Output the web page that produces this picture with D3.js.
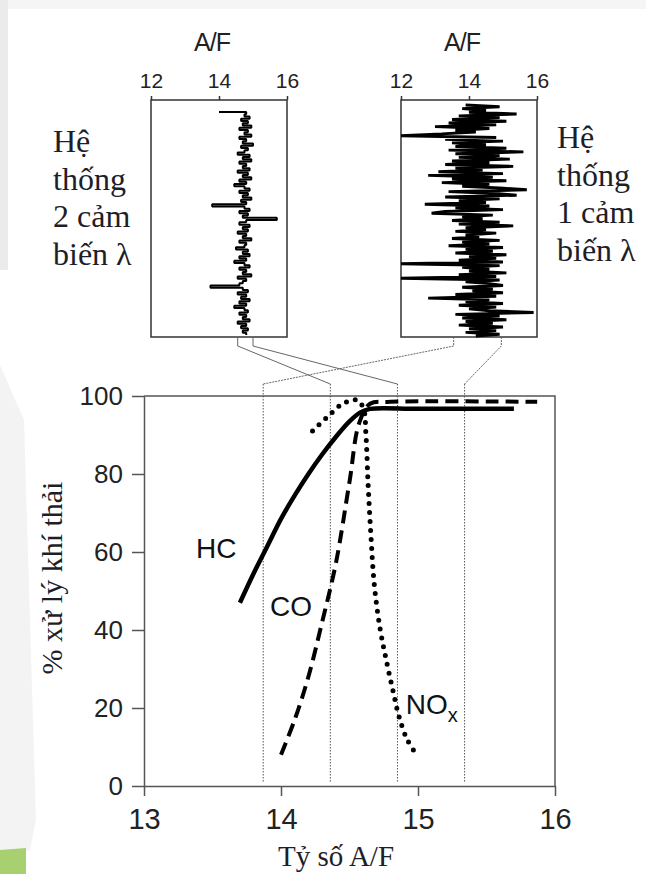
<!DOCTYPE html>
<html>
<head>
<meta charset="utf-8">
<script src="https://cdn.jsdelivr.net/npm/d3@7"></script>
<style>
  body { margin: 0; background: #fff; }
  svg { display: block; }
</style>
</head>
<body>
<div id="chart"></div>
<script>
// ---- data ----
var xTicks = [13, 14, 15, 16];
var yTicks = [0, 20, 40, 60, 80, 100];
var panelTicks = [12, 14, 16];

// conversion efficiency curves (A/F, %)
var hcAF  = [13.7, 13.8, 13.9, 14.0, 14.1, 14.2, 14.3, 14.4, 14.5, 14.58, 14.65, 15.0, 15.7];
var hcPct = [47, 54.5, 61.5, 68.5, 74.5, 80, 85, 89.5, 93.5, 95.8, 96.7, 96.7, 96.7];
var coAF  = [14.0, 14.1, 14.2, 14.3, 14.4, 14.5, 14.57, 14.65, 14.8, 15.87];
var coPct = [8, 17, 28, 42, 57, 78, 93, 98, 98.5, 98.5];
var noxAF  = [14.23, 14.35, 14.45, 14.55, 14.6, 14.62, 14.635, 14.655, 14.68, 14.72, 14.77, 14.82, 14.86, 14.92, 15.0];
var noxPct = [91, 95, 98, 99, 97, 90, 78, 65, 52, 41, 32, 24, 18, 12, 7.5];

// A/F window lines in the main chart and the matching span in each trace panel
var windowAF = [13.87, 14.36, 14.85, 15.34];
var twoSensorSpan = [14.55, 15.0];   // -> windowAF[1], windowAF[2]
var oneSensorSpan = [13.55, 14.95];  // -> windowAF[0], windowAF[3]

// A/F traces over time (top to bottom)
var twoSensorAF = [14.0, 14.8, 14.75, 14.9, 14.65, 14.85, 14.7, 14.95, 14.6, 14.85,
  14.75, 14.95, 14.6, 14.8, 14.7, 15.0, 14.65, 14.85, 14.75, 14.55,
  14.9, 14.7, 14.95, 14.6, 14.8, 14.7, 14.9, 14.55, 14.85, 14.7,
  14.95, 14.6, 14.8, 14.45, 14.75, 14.9, 14.6, 14.85, 14.7, 14.95,
  14.65, 14.8, 13.8, 14.75, 14.9, 14.6, 14.85, 14.7, 15.7, 14.8,
  14.6, 14.9, 14.7, 14.85, 14.55, 14.8, 14.7, 14.95, 14.6, 14.8,
  14.75, 14.5, 14.85, 14.7, 14.9, 14.6, 14.8, 14.45, 14.75, 14.9,
  14.6, 14.8, 14.7, 14.95, 14.55, 14.8, 14.7, 14.6, 13.75, 14.7,
  14.85, 14.55, 14.8, 14.65, 14.9, 14.6, 14.8, 14.45, 14.75, 14.85,
  14.6, 14.8, 14.7, 14.9, 14.55, 14.8, 14.65, 14.85, 14.7, 14.8];

var oneSensorAF = [13.9, 14.9, 13.8, 14.5, 14.0, 15.4, 13.7, 14.9, 13.5, 15.1,
  13.4, 14.8, 13.0, 14.6, 13.6, 14.2, 13.2, 12.0, 14.8, 13.3,
  15.0, 13.5, 14.5, 13.6, 15.1, 13.4, 15.6, 13.6, 14.9, 13.7,
  15.2, 13.5, 14.6, 13.3, 15.3, 13.6, 14.4, 13.1, 15.0, 12.8,
  14.7, 13.5, 15.1, 13.2, 14.6, 13.8, 14.9, 15.7, 13.4, 14.8,
  15.4, 13.3, 14.9, 13.7, 14.5, 12.7, 14.6, 13.6, 15.0, 13.3,
  12.9, 14.7, 13.8, 14.4, 13.5, 14.9, 13.7, 15.3, 13.9, 14.5,
  13.6, 14.8, 13.9, 14.3, 13.5, 14.9, 13.8, 14.6, 13.4, 15.0,
  13.9, 14.7, 13.6, 15.1, 14.0, 14.8, 13.7, 15.0, 12.0, 14.9,
  13.8, 14.6, 14.0, 15.1, 13.7, 14.8, 12.0, 14.9, 13.9, 14.6,
  15.0, 13.8, 14.7, 14.1, 15.0, 13.6, 14.8, 12.8, 14.6, 13.9,
  15.0, 13.7, 14.8, 14.0, 14.6, 15.9, 13.6, 14.9, 13.8, 15.1,
  13.9, 14.7, 13.7, 15.0, 14.0, 14.8, 13.9, 14.9, 14.2];

var sansFont = "'Liberation Sans', Arial, sans-serif";
var serifFont = "'Liberation Serif', 'Times New Roman', serif";
var textColor = "#1e1e28";

var width = 646;
var height = 874;

const svg = d3.select("#chart").append("svg")
    .attr("width", width)
    .attr("height", height);

// faint screenshot background bits
svg.append("rect").attr("x", 0).attr("y", 0).attr("width", width).attr("height", 9).attr("fill", "#f5f5f5");
svg.append("rect").attr("x", 0).attr("y", 0).attr("width", 8).attr("height", 270).attr("fill", "#ebebeb");
svg.append("path").attr("d", "M0,365L24,420L36,820L30,850L0,860Z").attr("fill", "#f3f3f3");
svg.append("path").attr("d", "M0,850L26,848L26,874L0,874Z").attr("fill", "#a8d070");

// ---- main chart scales ----
var x = d3.scaleLinear().domain([13, 16]).range([144, 555]);
var y = d3.scaleLinear().domain([0, 100]).range([786, 396]);

// frame top + right
svg.append("path")
    .attr("d", `M${x(13)},${y(100)}H${x(16)}V${y(0)}`)
    .attr("fill", "none").attr("stroke", "#555").attr("stroke-width", 1.5);

// y axis
const gy = svg.append("g")
    .attr("transform", `translate(${x(13)},0)`)
    .call(d3.axisLeft(y).tickValues(yTicks).tickFormat(d3.format("d"))
        .tickSize(12).tickSizeOuter(0).tickPadding(9));

// x axis
const gx = svg.append("g")
    .attr("transform", `translate(0,${y(0)})`)
    .call(d3.axisBottom(x).tickValues(xTicks).tickFormat(d3.format("d"))
        .tickSize(10).tickSizeOuter(0).tickPadding(12));

[gx, gy].forEach(function(g) {
    g.selectAll("path, line").attr("stroke", "#555").attr("stroke-width", 1.5);
    g.selectAll("text").attr("font-family", sansFont).attr("fill", "#222");
});
gy.selectAll("text").attr("font-size", 26);
gx.selectAll("text").attr("font-size", 29);

// axis titles
svg.append("text")
    .attr("x", 336).attr("y", 866)
    .attr("text-anchor", "middle")
    .attr("font-family", serifFont).attr("font-size", 29).attr("fill", textColor)
    .text("Tỷ số A/F");

svg.append("text")
    .attr("transform", "translate(62,578) rotate(-90)")
    .attr("text-anchor", "middle")
    .attr("font-family", serifFont).attr("font-size", 30).attr("fill", textColor)
    .text("% xử lý khí thải");

// window lines
var windowTop = 384;
svg.append("g").selectAll("line")
    .data(windowAF)
    .join("line")
    .attr("x1", d => x(d)).attr("x2", d => x(d))
    .attr("y1", windowTop).attr("y2", 782)
    .attr("stroke", "#555").attr("stroke-width", 1)
    .attr("stroke-dasharray", "1.5,1.5");

// efficiency curves
var curve = d3.line()
    .x(d => x(d[0]))
    .y(d => y(d[1]))
    .curve(d3.curveCatmullRom.alpha(0.5));

svg.append("path")
    .attr("d", curve(d3.zip(hcAF, hcPct)))
    .attr("fill", "none").attr("stroke", "#000").attr("stroke-width", 4.5);

svg.append("path")
    .attr("d", curve(d3.zip(coAF, coPct)))
    .attr("fill", "none").attr("stroke", "#000").attr("stroke-width", 4)
    .attr("stroke-dasharray", "13,7");

svg.append("path")
    .attr("d", curve(d3.zip(noxAF, noxPct)))
    .attr("fill", "none").attr("stroke", "#000").attr("stroke-width", 5)
    .attr("stroke-linecap", "round")
    .attr("stroke-dasharray", "0,9");

// curve labels
var labelText = ["HC", "CO", "NO"];
var labelAF = [13.38, 13.92, 14.91];
var labelPct = [58.5, 43.5, 18.5];
svg.append("g").selectAll("text")
    .data(labelText)
    .join("text")
    .attr("x", (d, i) => x(labelAF[i]))
    .attr("y", (d, i) => y(labelPct[i]))
    .attr("font-family", sansFont).attr("font-size", 28).attr("fill", "#111")
    .text(d => d)
    .filter(d => d === "NO")
    .append("tspan")
    .attr("font-size", 20).attr("dy", 8)
    .text("x");

// ---- trace panels ----
var panelTop = 100;
var panelBottom = 337;
var panelWidth = 136;

function drawPanel(left, values, traceTop, traceBottom, strokeW, stepped) {
    var px = d3.scaleLinear().domain([12, 16]).range([left, left + panelWidth]);
    var py = d3.scaleLinear().domain([0, values.length - 1]).range([traceTop, traceBottom]);

    svg.append("rect")
        .attr("x", left).attr("y", panelTop)
        .attr("width", panelWidth).attr("height", panelBottom - panelTop)
        .attr("fill", "none").attr("stroke", "#333").attr("stroke-width", 1.5);

    const ga = svg.append("g")
        .attr("transform", `translate(0,${panelTop})`)
        .call(d3.axisTop(px).tickValues(panelTicks).tickFormat(d3.format("d"))
            .tickSize(4).tickSizeOuter(0).tickPadding(8));
    ga.select(".domain").remove();
    ga.selectAll("line").attr("stroke", "#333").attr("stroke-width", 1.5);
    ga.selectAll("text").attr("font-family", sansFont).attr("font-size", 21).attr("fill", "#222");

    svg.append("text")
        .attr("x", left + panelWidth / 2 - 7).attr("y", 51)
        .attr("text-anchor", "middle")
        .attr("font-family", sansFont).attr("font-size", 25).attr("fill", "#222")
        .attr("letter-spacing", -1)
        .text("A/F");

    var trace = d3.line().x(d => px(d)).y((d, i) => py(i));
    if (stepped) trace.curve(d3.curveStepAfter);
    svg.append("path")
        .attr("d", trace(values))
        .attr("fill", "none").attr("stroke", "#000")
        .attr("stroke-width", strokeW).attr("stroke-linejoin", "bevel");

    return px;
}

var pxTwo = drawPanel(151, twoSensorAF, 112, 335, 2, true);
var pxOne = drawPanel(401, oneSensorAF, 105, 336, 2.9, false);

// connectors from panel spans to window lines
function connector(px, af, target, dashed) {
    svg.append("path")
        .attr("d", `M${px(af)},${panelBottom}V${panelBottom + 9}L${x(target)},${windowTop}`)
        .attr("fill", "none").attr("stroke", "#666").attr("stroke-width", 1)
        .attr("stroke-dasharray", dashed ? "2,1" : null);
}
connector(pxTwo, twoSensorSpan[0], windowAF[1], false);
connector(pxTwo, twoSensorSpan[1], windowAF[2], false);
connector(pxOne, oneSensorSpan[0], windowAF[0], true);
connector(pxOne, oneSensorSpan[1], windowAF[3], true);

// side captions
var leftCaption = ["Hệ", "thống", "2 cảm", "biến λ"];
var rightCaption = ["Hệ", "thống", "1 cảm", "biến λ"];
function caption(lines, left, firstBaseline) {
    svg.append("g").selectAll("text")
        .data(lines)
        .join("text")
        .attr("x", left)
        .attr("y", (d, i) => firstBaseline + i * 37.7)
        .attr("font-family", serifFont).attr("font-size", 32).attr("fill", textColor)
        .text(d => d);
}
caption(leftCaption, 53, 152);
caption(rightCaption, 557, 148);
</script>
</body>
</html>
